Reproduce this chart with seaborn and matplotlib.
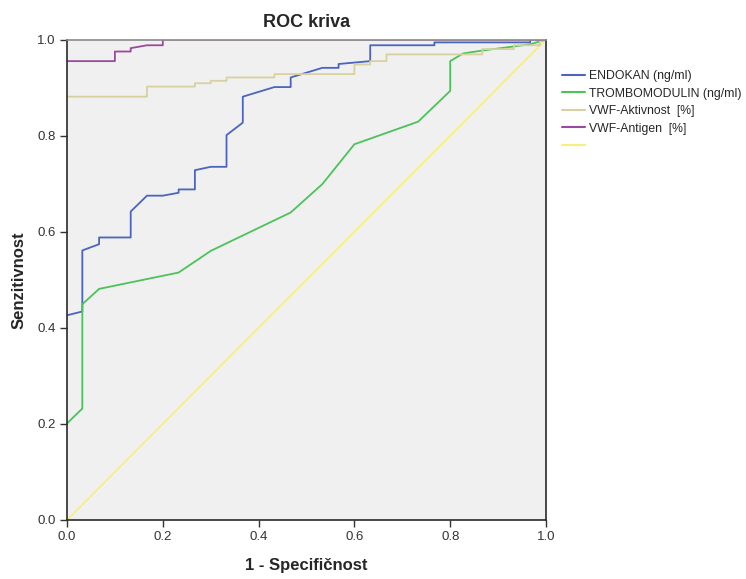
import matplotlib
matplotlib.use("Agg")
import matplotlib.pyplot as plt
import seaborn as sns
import pandas as pd
from matplotlib.lines import Line2D

# ROC curve coordinates (1 - specificity, sensitivity)
endokan_fpr = [0.0, 0.032, 0.032, 0.067, 0.067, 0.133, 0.133, 0.167, 0.200, 0.233, 0.233, 0.267, 0.267,
               0.300, 0.333, 0.333, 0.367, 0.367, 0.433, 0.467, 0.467, 0.533, 0.567, 0.567, 0.633,
               0.633, 0.767, 0.767, 0.967, 0.967, 1.0]
endokan_tpr = [0.426, 0.434, 0.561, 0.574, 0.588, 0.588, 0.642, 0.675, 0.675, 0.681, 0.688, 0.688, 0.728,
               0.735, 0.735, 0.801, 0.827, 0.881, 0.901, 0.901, 0.921, 0.941, 0.941, 0.949, 0.955,
               0.988, 0.988, 0.994, 0.994, 1.0, 1.0]

trombo_fpr = [0.0, 0.032, 0.032, 0.067, 0.233, 0.300, 0.467, 0.533, 0.600, 0.733, 0.800, 0.800,
              0.827, 0.867, 0.967, 1.0]
trombo_tpr = [0.201, 0.232, 0.449, 0.481, 0.515, 0.560, 0.640, 0.699, 0.782, 0.829, 0.893, 0.955,
              0.971, 0.977, 0.990, 1.0]

aktiv_fpr = [0.0, 0.167, 0.167, 0.267, 0.267, 0.300, 0.300, 0.333, 0.333, 0.433, 0.433, 0.600, 0.600,
             0.633, 0.633, 0.667, 0.667, 0.867, 0.867, 0.933, 0.933, 0.987, 0.987, 1.0]
aktiv_tpr = [0.881, 0.881, 0.902, 0.902, 0.909, 0.909, 0.914, 0.914, 0.921, 0.921, 0.928, 0.928, 0.948,
             0.948, 0.955, 0.955, 0.969, 0.969, 0.980, 0.980, 0.988, 0.988, 0.996, 1.0]

antigen_fpr = [0.0, 0.100, 0.100, 0.133, 0.133, 0.167, 0.200, 0.200, 1.0]
antigen_tpr = [0.955, 0.955, 0.975, 0.975, 0.982, 0.988, 0.988, 1.0, 1.0]

ref_fpr = [0.0, 1.0]
ref_tpr = [0.0, 1.0]

series_names = ["ENDOKAN (ng/ml)", "TROMBOMODULIN (ng/ml)", "VWF-Aktivnost  [%]",
                "VWF-Antigen  [%]", " "]
series_colors = ["#4a64bf", "#4cc25a", "#d8d0a0", "#9a4a9c", "#f6f07c"]
x_ticks = [0.0, 0.2, 0.4, 0.6, 0.8, 1.0]
y_ticks = [0.0, 0.2, 0.4, 0.6, 0.8, 1.0]

frames = []
for name, xs, ys in zip(series_names,
                        [endokan_fpr, trombo_fpr, aktiv_fpr, antigen_fpr, ref_fpr],
                        [endokan_tpr, trombo_tpr, aktiv_tpr, antigen_tpr, ref_tpr]):
    frames.append(pd.DataFrame({"fpr": xs, "tpr": ys, "curve": name, "order": range(len(xs))}))
df = pd.concat(frames, ignore_index=True)

sns.set_theme(style="white")
plt.rcParams["font.family"] = ["Liberation Sans", "DejaVu Sans"]

fig = plt.figure(figsize=(7.46, 5.79), dpi=100)
ax = fig.add_axes([67 / 746, 59 / 579, 479 / 746, 480.5 / 579])
ax.set_facecolor("#f0f0f0")

palette = dict(zip(series_names, series_colors))
# reference diagonal first, curves above it, antigen last
draw_order = [" ", "ENDOKAN (ng/ml)", "TROMBOMODULIN (ng/ml)", "VWF-Aktivnost  [%]", "VWF-Antigen  [%]"]
for name in draw_order:
    sub = df[df["curve"] == name]
    sns.lineplot(data=sub, x="fpr", y="tpr", color=palette[name], sort=False,
                 estimator=None, linewidth=1.3, ax=ax, legend=False)

ax.set_xlim(0, 1)
ax.set_ylim(0, 1)
ax.set_xticks(x_ticks)
ax.set_yticks(y_ticks)
ax.set_xticklabels([f"{t:.1f}" for t in x_ticks], fontsize=9.5, color="#333333")
ax.set_yticklabels([f"{t:.1f}" for t in y_ticks], fontsize=9.5, color="#333333")
ax.tick_params(axis="both", direction="out", length=5, width=1, color="#333333", pad=3,
               bottom=True, left=True)

for side in ["left", "bottom", "right"]:
    ax.spines[side].set_color("#2a2a2a")
    ax.spines[side].set_linewidth(1.2)
ax.spines["top"].set_color("#8a8a8a")
ax.spines["top"].set_linewidth(1.2)

ax.set_title("ROC kriva", fontsize=13, fontweight="bold", pad=9)
ax.set_xlabel("1 - Specifičnost", fontsize=12, fontweight="bold", labelpad=11)
ax.set_ylabel("Senzitivnost", fontsize=12, fontweight="bold", labelpad=8)

handles = [Line2D([], [], color=palette[n], linewidth=1.5) for n in series_names]
fig.legend(handles, series_names, loc="upper left", bbox_to_anchor=(562 / 746, 1 - 70 / 579),
           frameon=False, fontsize=8.8, handlelength=1.9, handletextpad=0.3,
           labelspacing=0.45, borderaxespad=0, borderpad=0)

fig.savefig("out.png", dpi=100)
